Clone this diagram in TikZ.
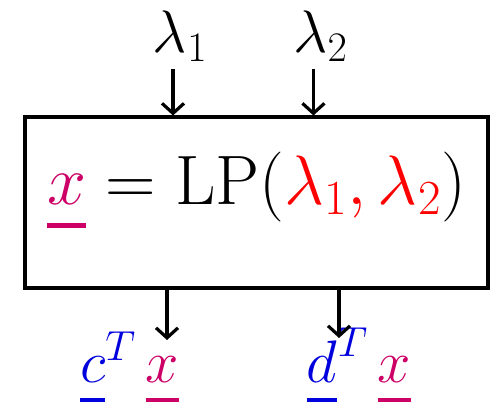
\documentclass[tikz,border=0pt]{standalone}
\usepackage{fix-cm}
\usepackage{amsmath}
\usepackage{tikz}
\usetikzlibrary{arrows.meta, positioning}
\definecolor{VecInk}{HTML}{CC0066}
\definecolor{CostInk}{HTML}{0000DD}
\definecolor{ParInk}{HTML}{FF0000}
\newcommand{\uvec}[1]{\mathord{\setbox0=\hbox{$#1$}%
  \rlap{\raisebox{-0.34em}{\rule{\wd0}{0.075em}}}\box0}}

\begin{document}
\begin{tikzpicture}[x=1pt, y=1pt, >={Straight Barb[length=10pt, width=22pt]},
  lpbox/.style={draw, line width=4pt, minimum width=463pt, minimum height=170pt,
    inner sep=0pt, text height=0.75em, text depth=0.36em,
    font=\fontsize{70}{74}\selectfont},
  lamlab/.style={inner sep=3pt, anchor=base, font=\fontsize{60}{64}\selectfont},
  outlab/.style={inner sep=0pt, anchor=base, font=\fontsize{60}{64}\selectfont},
  conn/.style={->, line width=3.2pt}]
\useasboundingbox (0,0) rectangle (497,402);
\node[lpbox] (lp) at (256.5,199.5)
  {${\color{VecInk}\uvec{x}} = \mathrm{LP}({\color{ParInk}\lambda_1, \lambda_2})$};
\node[lamlab] (l1) at (180,349) {$\lambda_1$};
\node[lamlab, right=80pt of l1] (l2) {$\lambda_2$};
\node[outlab] (cx) at (129.5,20)
  {${\color{CostInk}\uvec{c}^{T}}\,{\color{VecInk}\uvec{x}}$};
\node[outlab] (dx) at (359,20)
  {${\color{CostInk}\uvec{d}^{T}}\,{\color{VecInk}\uvec{x}}$};
\coordinate (t1) at (167,62);
\coordinate (t2) at (339,64);
\draw[conn] ([xshift=-7pt, yshift=-4pt]l1.south) -- ([xshift=-7pt]l1.south |- lp.north);
\draw[conn] ([xshift=-7pt, yshift=-4pt]l2.south) -- ([xshift=-7pt]l2.south |- lp.north);
\draw[conn] (lp.south -| t1) -- (t1);
\draw[conn] (lp.south -| t2) -- (t2);
\end{tikzpicture}
\end{document}
